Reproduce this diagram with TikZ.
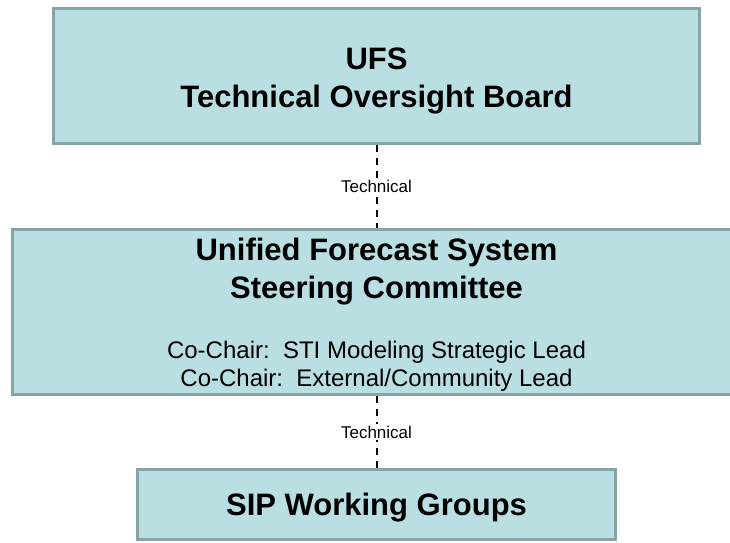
\documentclass[tikz,border=0pt]{standalone}
\usepackage{fontspec}
\setmainfont{Liberation Sans}
\begin{document}
\begin{tikzpicture}[x=1pt,y=-1pt]
\definecolor{boxfill}{HTML}{B9DFE2}
\definecolor{boxline}{HTML}{87A5A7}
\tikzstyle{panel}=[draw=boxline, fill=boxfill, line width=3pt, inner sep=0pt]
\tikzstyle{heading}=[font=\bfseries\fontsize{31}{38}\selectfont, align=center, inner sep=0pt]
\tikzstyle{chairs}=[font=\fontsize{24}{28}\selectfont, align=center, inner sep=0pt]
\tikzstyle{link}=[line width=2pt, dash pattern=on 7pt off 6pt]
\tikzstyle{linklabel}=[fill=white, font=\fontsize{17}{20}\selectfont, inner sep=2pt]

\useasboundingbox (0,0) rectangle (730,542);
\clip (0,0) rectangle (730,542);

\draw (376.5,76) node[panel, minimum width=646pt, minimum height=135pt] (tob) {};
\draw (376.5,312) node[panel, minimum width=728pt, minimum height=165pt] (sc) {};
\draw (376.5,504.5) node[panel, minimum width=478pt, minimum height=70pt] (sip) {};

\draw (376.5,48) node[heading, anchor=north] (tobtext) {UFS\\Technical Oversight Board};
\draw (376.5,238) node[heading, anchor=north] (sctitle) {Unified Forecast System\\Steering Committee};
\draw (376.5,341) node[chairs, anchor=north] (scchairs) {Co-Chair:\ \ STI Modeling Strategic Lead\\Co-Chair:\ \ External/Community Lead};
\draw (376.5,515) node[heading, anchor=base] (siptext) {SIP Working Groups};

\draw[link] (tob) edge node[linklabel] {Technical} (sc);
\draw[link] (sc) edge node[linklabel] {Technical} (sip);
\end{tikzpicture}
\end{document}
